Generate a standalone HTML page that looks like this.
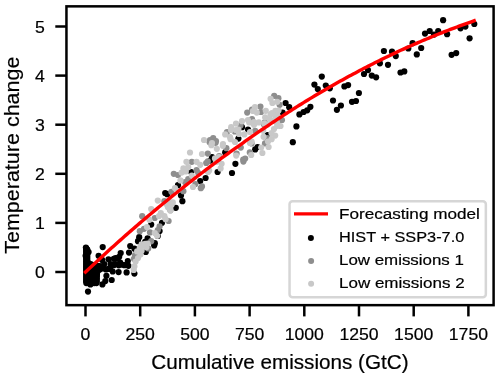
<!DOCTYPE html>
<html><head><meta charset="utf-8"><style>html,body{margin:0;padding:0;background:#fff;overflow:hidden;width:500px;height:377px}svg{display:block;will-change:transform}</style></head>
<body><svg width="500" height="377" viewBox="0 0 500 377"><rect x="0" y="0" width="500" height="377" fill="#fff"/><g fill="#000000"><circle cx="86.3" cy="248.7" r="3.1"/><circle cx="86.3" cy="251.2" r="3.1"/><circle cx="86.3" cy="253.7" r="3.1"/><circle cx="86.3" cy="256.2" r="3.1"/><circle cx="86.3" cy="258.7" r="3.1"/><circle cx="86.3" cy="261.2" r="3.1"/><circle cx="86.3" cy="263.7" r="3.1"/><circle cx="88.8" cy="263.7" r="3.1"/><circle cx="86.3" cy="266.2" r="3.1"/><circle cx="88.8" cy="266.2" r="3.1"/><circle cx="91.3" cy="266.2" r="3.1"/><circle cx="93.8" cy="266.2" r="3.1"/><circle cx="96.3" cy="266.2" r="3.1"/><circle cx="98.8" cy="266.2" r="3.1"/><circle cx="86.3" cy="268.7" r="3.1"/><circle cx="88.8" cy="268.7" r="3.1"/><circle cx="91.3" cy="268.7" r="3.1"/><circle cx="93.8" cy="268.7" r="3.1"/><circle cx="96.3" cy="268.7" r="3.1"/><circle cx="98.8" cy="268.7" r="3.1"/><circle cx="86.3" cy="271.2" r="3.1"/><circle cx="88.8" cy="271.2" r="3.1"/><circle cx="91.3" cy="271.2" r="3.1"/><circle cx="93.8" cy="271.2" r="3.1"/><circle cx="96.3" cy="271.2" r="3.1"/><circle cx="86.3" cy="273.7" r="3.1"/><circle cx="88.8" cy="273.7" r="3.1"/><circle cx="91.3" cy="273.7" r="3.1"/><circle cx="93.8" cy="273.7" r="3.1"/><circle cx="96.3" cy="273.7" r="3.1"/><circle cx="86.3" cy="276.2" r="3.1"/><circle cx="88.8" cy="276.2" r="3.1"/><circle cx="91.3" cy="276.2" r="3.1"/><circle cx="93.8" cy="276.2" r="3.1"/><circle cx="96.3" cy="276.2" r="3.1"/><circle cx="86.3" cy="278.7" r="3.1"/><circle cx="88.8" cy="278.7" r="3.1"/><circle cx="91.3" cy="278.7" r="3.1"/><circle cx="93.8" cy="278.7" r="3.1"/><circle cx="96.3" cy="278.7" r="3.1"/><circle cx="86.3" cy="281.2" r="3.1"/><circle cx="88.8" cy="281.2" r="3.1"/><circle cx="91.3" cy="281.2" r="3.1"/><circle cx="93.8" cy="281.2" r="3.1"/><circle cx="96.3" cy="281.2" r="3.1"/><circle cx="86.3" cy="248.7" r="3.1"/><circle cx="86.3" cy="250.7" r="3.1"/><circle cx="86.3" cy="252.7" r="3.1"/><circle cx="86.3" cy="254.8" r="3.1"/><circle cx="86.3" cy="256.8" r="3.1"/><circle cx="86.3" cy="258.8" r="3.1"/><circle cx="86.3" cy="260.8" r="3.1"/><circle cx="86.3" cy="262.9" r="3.1"/><circle cx="86.3" cy="264.9" r="3.1"/><circle cx="86.3" cy="266.9" r="3.1"/><circle cx="86.3" cy="268.9" r="3.1"/><circle cx="86.3" cy="270.9" r="3.1"/><circle cx="86.3" cy="273.0" r="3.1"/><circle cx="86.3" cy="275.0" r="3.1"/><circle cx="86.3" cy="277.0" r="3.1"/><circle cx="86.3" cy="279.0" r="3.1"/><circle cx="86.3" cy="281.1" r="3.1"/><circle cx="86.3" cy="283.1" r="3.1"/><circle cx="88.3" cy="283.1" r="3.1"/><circle cx="90.3" cy="283.1" r="3.1"/><circle cx="92.3" cy="283.1" r="3.1"/><circle cx="94.3" cy="283.1" r="3.1"/><circle cx="96.4" cy="283.1" r="3.1"/><circle cx="96.6" cy="281.9" r="3.1"/><circle cx="96.7" cy="279.9" r="3.1"/><circle cx="96.8" cy="277.9" r="3.1"/><circle cx="96.9" cy="275.8" r="3.1"/><circle cx="97.0" cy="273.8" r="3.1"/><circle cx="97.2" cy="271.8" r="3.1"/><circle cx="98.3" cy="270.2" r="3.1"/><circle cx="100.1" cy="269.3" r="3.1"/><circle cx="100.9" cy="267.8" r="3.1"/><circle cx="100.3" cy="266.4" r="3.1"/><circle cx="98.3" cy="266.1" r="3.1"/><circle cx="96.3" cy="265.9" r="3.1"/><circle cx="94.3" cy="265.5" r="3.1"/><circle cx="92.4" cy="264.8" r="3.1"/><circle cx="90.5" cy="264.2" r="3.1"/><circle cx="88.6" cy="263.4" r="3.1"/><circle cx="87.4" cy="261.8" r="3.1"/><circle cx="87.3" cy="259.8" r="3.1"/><circle cx="87.3" cy="257.8" r="3.1"/><circle cx="87.3" cy="255.8" r="3.1"/><circle cx="87.3" cy="253.8" r="3.1"/><circle cx="87.3" cy="251.7" r="3.1"/><circle cx="87.3" cy="249.7" r="3.1"/><circle cx="130.2" cy="246.0" r="3.1"/><circle cx="129.0" cy="252.6" r="3.1"/><circle cx="127.8" cy="261.0" r="3.1"/><circle cx="128.4" cy="265.8" r="3.1"/><circle cx="126.6" cy="272.4" r="3.1"/><circle cx="134.4" cy="273.6" r="3.1"/><circle cx="138.0" cy="241.2" r="3.1"/><circle cx="145.2" cy="241.8" r="3.1"/><circle cx="154.2" cy="245.4" r="3.1"/><circle cx="145.8" cy="252.0" r="3.1"/><circle cx="139.2" cy="237.2" r="3.1"/><circle cx="147.6" cy="238.4" r="3.1"/><circle cx="154.8" cy="243.2" r="3.1"/><circle cx="151.2" cy="224.6" r="3.1"/><circle cx="162.0" cy="222.8" r="3.1"/><circle cx="175.8" cy="207.8" r="3.1"/><circle cx="182.4" cy="201.2" r="3.1"/><circle cx="157.8" cy="236.0" r="3.1"/><circle cx="210.4" cy="160.6" r="3.1"/><circle cx="191.2" cy="172.0" r="3.1"/><circle cx="178.0" cy="185.2" r="3.1"/><circle cx="181.0" cy="195.4" r="3.1"/><circle cx="167.2" cy="194.2" r="3.1"/><circle cx="205.6" cy="178.0" r="3.1"/><circle cx="200.2" cy="181.0" r="3.1"/><circle cx="217.6" cy="172.0" r="3.1"/><circle cx="242.0" cy="127.2" r="3.1"/><circle cx="248.0" cy="129.6" r="3.1"/><circle cx="238.4" cy="138.6" r="3.1"/><circle cx="255.2" cy="149.4" r="3.1"/><circle cx="257.6" cy="147.0" r="3.1"/><circle cx="235.4" cy="163.8" r="3.1"/><circle cx="225.2" cy="152.4" r="3.1"/><circle cx="212.0" cy="157.2" r="3.1"/><circle cx="285.6" cy="103.0" r="3.1"/><circle cx="289.2" cy="107.2" r="3.1"/><circle cx="282.6" cy="112.6" r="3.1"/><circle cx="299.4" cy="114.4" r="3.1"/><circle cx="303.6" cy="112.0" r="3.1"/><circle cx="296.4" cy="126.4" r="3.1"/><circle cx="292.8" cy="142.2" r="3.1"/><circle cx="267.4" cy="135.0" r="3.1"/><circle cx="232.0" cy="173.0" r="3.1"/><circle cx="159.6" cy="231.0" r="3.1"/><circle cx="165.2" cy="193.0" r="3.1"/><circle cx="102.7" cy="247.1" r="3.1"/><circle cx="120.7" cy="253.0" r="3.1"/><circle cx="108.5" cy="259.3" r="3.1"/><circle cx="113.8" cy="258.8" r="3.1"/><circle cx="117.5" cy="258.3" r="3.1"/><circle cx="120.2" cy="262.5" r="3.1"/><circle cx="124.4" cy="265.2" r="3.1"/><circle cx="113.8" cy="265.2" r="3.1"/><circle cx="110.6" cy="264.1" r="3.1"/><circle cx="104.2" cy="264.1" r="3.1"/><circle cx="102.1" cy="259.9" r="3.1"/><circle cx="118.6" cy="272.1" r="3.1"/><circle cx="112.7" cy="271.5" r="3.1"/><circle cx="106.4" cy="275.8" r="3.1"/><circle cx="111.7" cy="280.0" r="3.1"/><circle cx="105.3" cy="281.1" r="3.1"/><circle cx="103.2" cy="268.3" r="3.1"/><circle cx="108.5" cy="268.9" r="3.1"/><circle cx="134.5" cy="248.7" r="3.1"/><circle cx="85.9" cy="247.5" r="3.1"/><circle cx="88.6" cy="252.1" r="3.1"/><circle cx="98.6" cy="255.8" r="3.1"/><circle cx="88.0" cy="291.6" r="3.1"/><circle cx="90.4" cy="284.4" r="3.1"/><circle cx="102.4" cy="284.4" r="3.1"/><circle cx="119.2" cy="256.8" r="3.1"/><circle cx="115.6" cy="264.0" r="3.1"/><circle cx="121.6" cy="264.6" r="3.1"/><circle cx="110.8" cy="266.4" r="3.1"/><circle cx="106.0" cy="269.4" r="3.1"/><circle cx="85.6" cy="255.8" r="3.1"/><circle cx="115.6" cy="258.2" r="3.1"/><circle cx="118.7" cy="265.3" r="3.1"/><circle cx="321.8" cy="76.6" r="3.1"/><circle cx="314.4" cy="84.6" r="3.1"/><circle cx="317.8" cy="89.1" r="3.1"/><circle cx="325.8" cy="85.6" r="3.1"/><circle cx="329.8" cy="88.3" r="3.1"/><circle cx="344.4" cy="86.4" r="3.1"/><circle cx="348.1" cy="85.1" r="3.1"/><circle cx="358.9" cy="93.0" r="3.1"/><circle cx="333.0" cy="100.5" r="3.1"/><circle cx="340.9" cy="105.5" r="3.1"/><circle cx="336.9" cy="109.8" r="3.1"/><circle cx="352.0" cy="101.8" r="3.1"/><circle cx="356.0" cy="101.0" r="3.1"/><circle cx="310.4" cy="106.8" r="3.1"/><circle cx="307.2" cy="110.3" r="3.1"/><circle cx="364.0" cy="74.0" r="3.1"/><circle cx="368.0" cy="70.1" r="3.1"/><circle cx="371.8" cy="75.6" r="3.1"/><circle cx="376.1" cy="77.3" r="3.1"/><circle cx="379.9" cy="63.3" r="3.1"/><circle cx="383.9" cy="51.0" r="3.1"/><circle cx="388.0" cy="64.8" r="3.1"/><circle cx="392.0" cy="51.7" r="3.1"/><circle cx="395.8" cy="56.1" r="3.1"/><circle cx="400.5" cy="72.5" r="3.1"/><circle cx="404.3" cy="71.4" r="3.1"/><circle cx="408.3" cy="48.5" r="3.1"/><circle cx="412.6" cy="43.2" r="3.1"/><circle cx="416.8" cy="54.4" r="3.1"/><circle cx="421.2" cy="48.0" r="3.1"/><circle cx="425.0" cy="33.6" r="3.1"/><circle cx="429.7" cy="31.0" r="3.1"/><circle cx="434.0" cy="34.6" r="3.1"/><circle cx="438.2" cy="31.0" r="3.1"/><circle cx="443.1" cy="20.2" r="3.1"/><circle cx="447.1" cy="34.2" r="3.1"/><circle cx="451.6" cy="54.8" r="3.1"/><circle cx="456.2" cy="53.1" r="3.1"/><circle cx="460.5" cy="28.3" r="3.1"/><circle cx="465.4" cy="26.6" r="3.1"/><circle cx="469.6" cy="38.3" r="3.1"/><circle cx="474.3" cy="24.0" r="3.1"/></g><g fill="#8e8e8e"><circle cx="135.0" cy="255.0" r="3.1"/><circle cx="151.2" cy="241.2" r="3.1"/><circle cx="148.2" cy="248.4" r="3.1"/><circle cx="142.2" cy="216.2" r="3.1"/><circle cx="139.8" cy="231.2" r="3.1"/><circle cx="144.0" cy="228.8" r="3.1"/><circle cx="154.8" cy="218.0" r="3.1"/><circle cx="159.6" cy="226.4" r="3.1"/><circle cx="157.8" cy="230.0" r="3.1"/><circle cx="150.0" cy="232.4" r="3.1"/><circle cx="168.6" cy="221.0" r="3.1"/><circle cx="170.4" cy="210.2" r="3.1"/><circle cx="164.4" cy="201.2" r="3.1"/><circle cx="191.8" cy="161.8" r="3.1"/><circle cx="206.2" cy="163.0" r="3.1"/><circle cx="173.8" cy="173.8" r="3.1"/><circle cx="178.0" cy="175.0" r="3.1"/><circle cx="196.6" cy="170.2" r="3.1"/><circle cx="198.4" cy="173.2" r="3.1"/><circle cx="188.2" cy="179.2" r="3.1"/><circle cx="185.2" cy="182.2" r="3.1"/><circle cx="171.4" cy="191.8" r="3.1"/><circle cx="183.4" cy="191.2" r="3.1"/><circle cx="202.0" cy="186.4" r="3.1"/><circle cx="200.8" cy="188.2" r="3.1"/><circle cx="195.4" cy="184.0" r="3.1"/><circle cx="213.2" cy="138.0" r="3.1"/><circle cx="209.6" cy="142.2" r="3.1"/><circle cx="215.6" cy="142.8" r="3.1"/><circle cx="226.4" cy="148.2" r="3.1"/><circle cx="227.0" cy="132.0" r="3.1"/><circle cx="234.8" cy="131.4" r="3.1"/><circle cx="255.2" cy="130.8" r="3.1"/><circle cx="264.8" cy="122.4" r="3.1"/><circle cx="249.8" cy="152.4" r="3.1"/><circle cx="236.6" cy="153.6" r="3.1"/><circle cx="240.8" cy="147.6" r="3.1"/><circle cx="243.2" cy="159.6" r="3.1"/><circle cx="207.8" cy="153.6" r="3.1"/><circle cx="207.8" cy="161.4" r="3.1"/><circle cx="219.2" cy="156.0" r="3.1"/><circle cx="251.6" cy="143.4" r="3.1"/><circle cx="274.2" cy="95.8" r="3.1"/><circle cx="278.4" cy="98.2" r="3.1"/><circle cx="279.6" cy="104.8" r="3.1"/><circle cx="280.2" cy="119.8" r="3.1"/><circle cx="260.4" cy="106.6" r="3.1"/><circle cx="252.0" cy="109.6" r="3.1"/><circle cx="261.0" cy="112.0" r="3.1"/><circle cx="247.2" cy="112.6" r="3.1"/><circle cx="252.0" cy="119.2" r="3.1"/><circle cx="264.0" cy="124.6" r="3.1"/><circle cx="267.4" cy="138.0" r="3.1"/><circle cx="265.0" cy="143.4" r="3.1"/><circle cx="243.4" cy="161.6" r="3.1"/><circle cx="245.2" cy="158.6" r="3.1"/><circle cx="240.5" cy="125.5" r="3.1"/><circle cx="210.0" cy="140.0" r="3.1"/><circle cx="216.0" cy="141.0" r="3.1"/><circle cx="133.9" cy="258.8" r="3.1"/><circle cx="282.0" cy="120.0" r="3.1"/></g><g fill="#c8c8c8"><circle cx="133.8" cy="270.0" r="3.1"/><circle cx="134.4" cy="266.4" r="3.1"/><circle cx="135.6" cy="261.6" r="3.1"/><circle cx="138.0" cy="258.0" r="3.1"/><circle cx="140.4" cy="254.4" r="3.1"/><circle cx="141.6" cy="250.8" r="3.1"/><circle cx="139.8" cy="247.8" r="3.1"/><circle cx="144.0" cy="245.4" r="3.1"/><circle cx="146.4" cy="247.2" r="3.1"/><circle cx="147.6" cy="243.6" r="3.1"/><circle cx="157.8" cy="200.6" r="3.1"/><circle cx="151.2" cy="209.0" r="3.1"/><circle cx="147.0" cy="227.0" r="3.1"/><circle cx="149.4" cy="219.8" r="3.1"/><circle cx="154.8" cy="233.0" r="3.1"/><circle cx="160.8" cy="213.2" r="3.1"/><circle cx="164.4" cy="216.2" r="3.1"/><circle cx="165.6" cy="219.2" r="3.1"/><circle cx="168.0" cy="207.2" r="3.1"/><circle cx="172.8" cy="202.4" r="3.1"/><circle cx="171.6" cy="204.8" r="3.1"/><circle cx="141.6" cy="244.4" r="3.1"/><circle cx="145.2" cy="243.8" r="3.1"/><circle cx="186.4" cy="161.8" r="3.1"/><circle cx="196.6" cy="161.8" r="3.1"/><circle cx="200.2" cy="164.8" r="3.1"/><circle cx="188.2" cy="167.2" r="3.1"/><circle cx="183.4" cy="168.4" r="3.1"/><circle cx="181.6" cy="172.6" r="3.1"/><circle cx="185.8" cy="171.4" r="3.1"/><circle cx="191.8" cy="175.6" r="3.1"/><circle cx="180.4" cy="180.4" r="3.1"/><circle cx="175.0" cy="188.2" r="3.1"/><circle cx="169.6" cy="202.0" r="3.1"/><circle cx="193.0" cy="187.0" r="3.1"/><circle cx="208.0" cy="172.0" r="3.1"/><circle cx="216.4" cy="161.8" r="3.1"/><circle cx="220.6" cy="168.4" r="3.1"/><circle cx="211.4" cy="145.2" r="3.1"/><circle cx="216.8" cy="148.8" r="3.1"/><circle cx="222.8" cy="145.8" r="3.1"/><circle cx="225.2" cy="134.4" r="3.1"/><circle cx="230.6" cy="139.2" r="3.1"/><circle cx="231.2" cy="127.2" r="3.1"/><circle cx="236.0" cy="123.6" r="3.1"/><circle cx="238.4" cy="129.6" r="3.1"/><circle cx="244.4" cy="134.4" r="3.1"/><circle cx="242.0" cy="121.2" r="3.1"/><circle cx="249.2" cy="122.4" r="3.1"/><circle cx="254.0" cy="124.8" r="3.1"/><circle cx="258.8" cy="122.4" r="3.1"/><circle cx="251.6" cy="141.6" r="3.1"/><circle cx="261.2" cy="147.6" r="3.1"/><circle cx="262.4" cy="153.0" r="3.1"/><circle cx="215.0" cy="158.4" r="3.1"/><circle cx="221.6" cy="163.8" r="3.1"/><circle cx="263.6" cy="136.8" r="3.1"/><circle cx="270.6" cy="98.8" r="3.1"/><circle cx="277.2" cy="101.8" r="3.1"/><circle cx="272.4" cy="103.0" r="3.1"/><circle cx="275.4" cy="110.8" r="3.1"/><circle cx="277.2" cy="115.0" r="3.1"/><circle cx="270.6" cy="114.4" r="3.1"/><circle cx="274.8" cy="121.0" r="3.1"/><circle cx="277.2" cy="125.8" r="3.1"/><circle cx="265.8" cy="110.8" r="3.1"/><circle cx="255.0" cy="107.2" r="3.1"/><circle cx="256.8" cy="112.6" r="3.1"/><circle cx="265.2" cy="117.4" r="3.1"/><circle cx="267.6" cy="124.6" r="3.1"/><circle cx="275.2" cy="135.6" r="3.1"/><circle cx="271.6" cy="133.2" r="3.1"/><circle cx="271.6" cy="139.2" r="3.1"/><circle cx="268.0" cy="141.6" r="3.1"/><circle cx="268.6" cy="147.0" r="3.1"/><circle cx="264.4" cy="123.6" r="3.1"/><circle cx="263.2" cy="130.8" r="3.1"/><circle cx="236.2" cy="155.6" r="3.1"/><circle cx="209.2" cy="170.6" r="3.1"/><circle cx="251.2" cy="155.0" r="3.1"/><circle cx="170.4" cy="210.6" r="3.1"/><circle cx="166.8" cy="204.6" r="3.1"/><circle cx="157.2" cy="235.8" r="3.1"/><circle cx="253.0" cy="111.0" r="3.1"/><circle cx="248.0" cy="120.0" r="3.1"/><circle cx="254.0" cy="122.0" r="3.1"/><circle cx="231.0" cy="130.0" r="3.1"/><circle cx="236.0" cy="130.0" r="3.1"/><circle cx="239.0" cy="134.0" r="3.1"/><circle cx="250.0" cy="132.0" r="3.1"/><circle cx="230.0" cy="137.0" r="3.1"/><circle cx="212.0" cy="143.0" r="3.1"/><circle cx="223.0" cy="144.0" r="3.1"/><circle cx="235.0" cy="142.0" r="3.1"/><circle cx="250.0" cy="143.0" r="3.1"/><circle cx="137.1" cy="251.4" r="3.1"/><circle cx="190.0" cy="152.5" r="3.1"/><circle cx="202.0" cy="154.0" r="3.1"/><circle cx="204.0" cy="140.0" r="3.1"/><circle cx="219.0" cy="157.0" r="3.1"/><circle cx="159.0" cy="216.1" r="3.1"/><circle cx="170.2" cy="208.2" r="3.1"/><circle cx="272.0" cy="113.0" r="3.1"/><circle cx="276.0" cy="117.0" r="3.1"/><circle cx="270.0" cy="119.0" r="3.1"/><circle cx="278.5" cy="110.5" r="3.1"/><circle cx="277.0" cy="122.5" r="3.1"/><circle cx="280.5" cy="126.0" r="3.1"/><circle cx="274.0" cy="129.0" r="3.1"/></g><polyline points="85.50,272.00 87.66,269.97 89.82,267.94 91.98,265.92 94.14,263.91 96.30,261.91 98.45,259.91 100.61,257.92 102.77,255.94 104.93,253.96 107.09,252.00 109.25,250.03 111.41,248.08 113.57,246.14 115.73,244.21 117.89,242.28 120.05,240.36 122.21,238.45 124.36,236.54 126.52,234.65 128.68,232.76 130.84,230.87 133.00,229.00 135.16,227.13 137.32,225.27 139.48,223.41 141.64,221.56 143.80,219.72 145.96,217.89 148.11,216.06 150.27,214.24 152.43,212.43 154.59,210.63 156.75,208.83 158.91,207.04 161.07,205.25 163.23,203.48 165.39,201.71 167.55,199.95 169.71,198.19 171.86,196.44 174.02,194.70 176.18,192.97 178.34,191.24 180.50,189.52 182.66,187.81 184.82,186.11 186.98,184.41 189.14,182.72 191.30,181.04 193.46,179.36 195.62,177.70 197.77,176.03 199.93,174.38 202.09,172.73 204.25,171.09 206.41,169.46 208.57,167.84 210.73,166.22 212.89,164.61 215.05,163.00 217.21,161.40 219.37,159.81 221.52,158.23 223.68,156.66 225.84,155.09 228.00,153.53 230.16,151.97 232.32,150.43 234.48,148.89 236.64,147.35 238.80,145.83 240.96,144.30 243.12,142.76 245.28,141.23 247.43,139.71 249.59,138.19 251.75,136.68 253.91,135.18 256.07,133.69 258.23,132.20 260.39,130.72 262.55,129.25 264.71,127.78 266.87,126.32 269.03,124.87 271.18,123.43 273.34,121.99 275.50,120.56 277.66,119.14 279.82,117.72 281.98,116.31 284.14,114.91 286.30,113.51 288.46,112.13 290.62,110.75 292.78,109.37 294.93,108.01 297.09,106.65 299.25,105.30 301.41,103.95 303.57,102.62 305.73,101.29 307.89,99.96 310.05,98.65 312.21,97.34 314.37,96.04 316.53,94.74 318.69,93.45 320.84,92.18 323.00,90.92 325.16,89.67 327.32,88.42 329.48,87.18 331.64,85.95 333.80,84.73 335.96,83.51 338.12,82.30 340.28,81.10 342.44,79.90 344.59,78.72 346.75,77.54 348.91,76.36 351.07,75.19 353.23,74.04 355.39,72.88 357.55,71.74 359.71,70.60 361.87,69.47 364.03,68.34 366.19,67.23 368.35,66.12 370.50,65.02 372.66,63.92 374.82,62.83 376.98,61.75 379.14,60.68 381.30,59.61 383.46,58.55 385.62,57.50 387.78,56.45 389.94,55.41 392.10,54.38 394.25,53.36 396.41,52.34 398.57,51.33 400.73,50.33 402.89,49.35 405.05,48.37 407.21,47.39 409.37,46.43 411.53,45.47 413.69,44.52 415.85,43.57 418.00,42.64 420.16,41.71 422.32,40.78 424.48,39.87 426.64,38.96 428.80,38.06 430.96,37.16 433.12,36.28 435.28,35.40 437.44,34.52 439.60,33.66 441.76,32.80 443.91,31.95 446.07,31.10 448.23,30.27 450.39,29.44 452.55,28.62 454.71,27.80 456.87,26.99 459.03,26.19 461.19,25.40 463.35,24.61 465.51,23.83 467.66,23.06 469.82,22.29 471.98,21.53 474.14,20.78" fill="none" stroke="#ff0000" stroke-width="3.4" stroke-linecap="square" stroke-linejoin="round"/><rect x="289.55" y="201.15" width="196.3" height="96.1" rx="3" ry="3" fill="#fff" fill-opacity="0.8" stroke="#d6d6d6" stroke-width="2.5"/><line x1="294" y1="213.9" x2="328" y2="213.9" stroke="#ff0000" stroke-width="3.2"/><circle cx="310.9" cy="238.1" r="3"/><circle cx="311.1" cy="261.0" r="3" fill="#8e8e8e"/><circle cx="311.1" cy="283.7" r="3" fill="#c8c8c8"/><rect x="66.45" y="6.35" width="427.15000000000003" height="298.79999999999995" fill="none" stroke="#000" stroke-width="2.5" stroke-linejoin="miter"/><line x1="85.50" y1="305.15" x2="85.50" y2="316.4" stroke="#000" stroke-width="2.5"/><line x1="140.20" y1="305.15" x2="140.20" y2="316.4" stroke="#000" stroke-width="2.5"/><line x1="194.90" y1="305.15" x2="194.90" y2="316.4" stroke="#000" stroke-width="2.5"/><line x1="249.60" y1="305.15" x2="249.60" y2="316.4" stroke="#000" stroke-width="2.5"/><line x1="304.30" y1="305.15" x2="304.30" y2="316.4" stroke="#000" stroke-width="2.5"/><line x1="359.00" y1="305.15" x2="359.00" y2="316.4" stroke="#000" stroke-width="2.5"/><line x1="413.70" y1="305.15" x2="413.70" y2="316.4" stroke="#000" stroke-width="2.5"/><line x1="468.40" y1="305.15" x2="468.40" y2="316.4" stroke="#000" stroke-width="2.5"/><line x1="66.45" y1="272.00" x2="55.3" y2="272.00" stroke="#000" stroke-width="2.5"/><line x1="66.45" y1="222.90" x2="55.3" y2="222.90" stroke="#000" stroke-width="2.5"/><line x1="66.45" y1="173.80" x2="55.3" y2="173.80" stroke="#000" stroke-width="2.5"/><line x1="66.45" y1="124.70" x2="55.3" y2="124.70" stroke="#000" stroke-width="2.5"/><line x1="66.45" y1="75.60" x2="55.3" y2="75.60" stroke="#000" stroke-width="2.5"/><line x1="66.45" y1="26.50" x2="55.3" y2="26.50" stroke="#000" stroke-width="2.5"/><text x="85.50" y="339.7" font-family="'Liberation Sans', sans-serif" stroke="#000" stroke-width="0.2" font-size="16" text-anchor="middle" textLength="9.80" lengthAdjust="spacingAndGlyphs">0</text><text x="140.20" y="339.7" font-family="'Liberation Sans', sans-serif" stroke="#000" stroke-width="0.2" font-size="16" text-anchor="middle" textLength="29.39" lengthAdjust="spacingAndGlyphs">250</text><text x="194.90" y="339.7" font-family="'Liberation Sans', sans-serif" stroke="#000" stroke-width="0.2" font-size="16" text-anchor="middle" textLength="29.39" lengthAdjust="spacingAndGlyphs">500</text><text x="249.60" y="339.7" font-family="'Liberation Sans', sans-serif" stroke="#000" stroke-width="0.2" font-size="16" text-anchor="middle" textLength="29.39" lengthAdjust="spacingAndGlyphs">750</text><text x="304.30" y="339.7" font-family="'Liberation Sans', sans-serif" stroke="#000" stroke-width="0.2" font-size="16" text-anchor="middle" textLength="39.19" lengthAdjust="spacingAndGlyphs">1000</text><text x="359.00" y="339.7" font-family="'Liberation Sans', sans-serif" stroke="#000" stroke-width="0.2" font-size="16" text-anchor="middle" textLength="39.19" lengthAdjust="spacingAndGlyphs">1250</text><text x="413.70" y="339.7" font-family="'Liberation Sans', sans-serif" stroke="#000" stroke-width="0.2" font-size="16" text-anchor="middle" textLength="39.19" lengthAdjust="spacingAndGlyphs">1500</text><text x="468.40" y="339.7" font-family="'Liberation Sans', sans-serif" stroke="#000" stroke-width="0.2" font-size="16" text-anchor="middle" textLength="39.19" lengthAdjust="spacingAndGlyphs">1750</text><text x="44.9" y="278.40" font-family="'Liberation Sans', sans-serif" stroke="#000" stroke-width="0.2" font-size="16" text-anchor="end" textLength="9.80" lengthAdjust="spacingAndGlyphs">0</text><text x="44.9" y="229.30" font-family="'Liberation Sans', sans-serif" stroke="#000" stroke-width="0.2" font-size="16" text-anchor="end" textLength="9.80" lengthAdjust="spacingAndGlyphs">1</text><text x="44.9" y="180.20" font-family="'Liberation Sans', sans-serif" stroke="#000" stroke-width="0.2" font-size="16" text-anchor="end" textLength="9.80" lengthAdjust="spacingAndGlyphs">2</text><text x="44.9" y="131.10" font-family="'Liberation Sans', sans-serif" stroke="#000" stroke-width="0.2" font-size="16" text-anchor="end" textLength="9.80" lengthAdjust="spacingAndGlyphs">3</text><text x="44.9" y="82.00" font-family="'Liberation Sans', sans-serif" stroke="#000" stroke-width="0.2" font-size="16" text-anchor="end" textLength="9.80" lengthAdjust="spacingAndGlyphs">4</text><text x="44.9" y="32.90" font-family="'Liberation Sans', sans-serif" stroke="#000" stroke-width="0.2" font-size="16" text-anchor="end" textLength="9.80" lengthAdjust="spacingAndGlyphs">5</text><text x="280" y="369" font-family="'Liberation Sans', sans-serif" stroke="#000" stroke-width="0.2" font-size="19.3" text-anchor="middle" textLength="257.29" lengthAdjust="spacingAndGlyphs">Cumulative emissions (GtC)</text><text transform="translate(19.1,155.2) rotate(-90)" x="0" y="0" font-family="'Liberation Sans', sans-serif" stroke="#000" stroke-width="0.2" font-size="19.5" text-anchor="middle" textLength="197.30" lengthAdjust="spacingAndGlyphs">Temperature change</text><text x="339.0" y="218.9" font-family="'Liberation Sans', sans-serif" stroke="#000" stroke-width="0.2" font-size="15.5" textLength="140.78" lengthAdjust="spacingAndGlyphs">Forecasting model</text><text x="339.0" y="241.8" font-family="'Liberation Sans', sans-serif" stroke="#000" stroke-width="0.2" font-size="15.5" textLength="125.24" lengthAdjust="spacingAndGlyphs">HIST + SSP3-7.0</text><text x="339.0" y="264.8" font-family="'Liberation Sans', sans-serif" stroke="#000" stroke-width="0.2" font-size="15.5" textLength="124.89" lengthAdjust="spacingAndGlyphs">Low emissions 1</text><text x="339.0" y="287.7" font-family="'Liberation Sans', sans-serif" stroke="#000" stroke-width="0.2" font-size="15.5" textLength="125.58" lengthAdjust="spacingAndGlyphs">Low emissions 2</text></svg></body></html>
